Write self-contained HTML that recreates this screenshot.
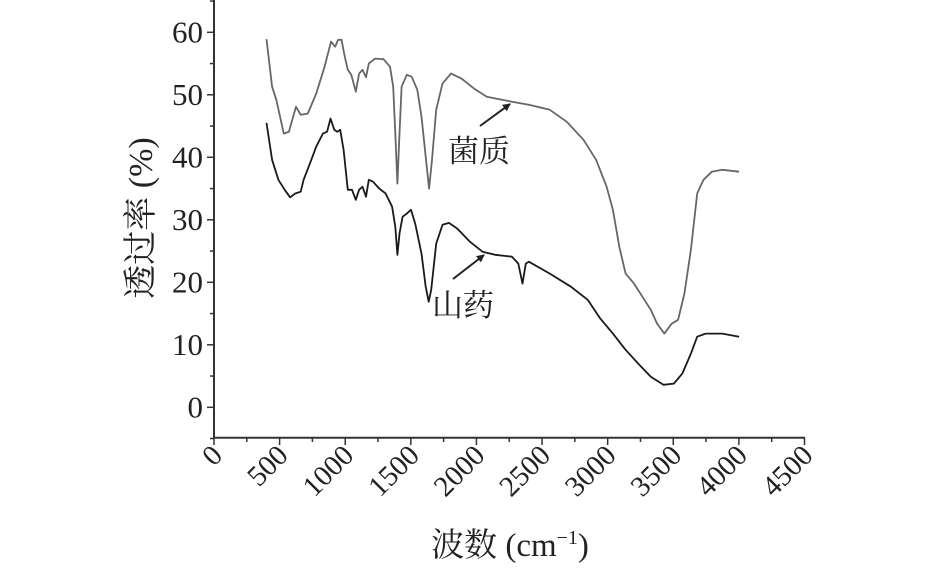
<!DOCTYPE html>
<html><head><meta charset="utf-8"><style>
body{margin:0;background:#fff}
svg text{font-family:"Liberation Serif","Noto Serif CJK SC","Noto Sans CJK SC",serif;fill:#222}
</style></head><body>
<svg id="chart" width="945" height="565" viewBox="0 0 945 565" xmlns="http://www.w3.org/2000/svg"></svg>
<script>
const xTicks=[0,500,1000,1500,2000,2500,3000,3500,4000,4500];
const yTicks=[0,10,20,30,40,50,60];
const junzhiX=[400,443,475,532,571,625,661,715,779,843,892,924,946,972,997,1020,1046,1081,1106,1132,1158,1180,1228,1292,1341,1366,1382,1398,1414,1430,1469,1507,1549,1581,1613,1639,1661,1693,1741,1806,1886,1982,2078,2174,2271,2399,2559,2688,2816,2912,2992,3040,3089,3137,3201,3265,3329,3377,3432,3489,3537,3585,3634,3682,3730,3794,3874,4002];
const junzhiY=[58.9,51.3,49.2,43.8,44.1,48.1,46.8,47.0,50.2,54.5,58.5,57.7,58.8,58.8,56.1,54,53.2,50.5,53.4,54,52.8,55,55.8,55.7,54.5,51.3,43.8,35.8,43.8,51.3,53.2,52.9,50.8,46.5,40.1,35,39.6,47.6,51.8,53.4,52.6,51,49.7,49.3,48.9,48.4,47.6,45.7,42.8,39.6,35.3,31.6,25.7,21.4,19.8,17.7,15.6,13.4,11.8,13.4,14,18.2,25.2,34.2,36.4,37.7,38,37.7];
const shanyaoX=[400,443,491,539,580,619,661,683,731,779,830,862,888,917,940,962,988,1020,1052,1081,1106,1132,1158,1180,1212,1260,1308,1357,1382,1398,1414,1437,1469,1501,1533,1581,1613,1636,1655,1693,1741,1790,1854,1950,2046,2142,2271,2319,2351,2376,2399,2559,2720,2848,2944,3040,3137,3233,3329,3425,3505,3569,3634,3682,3746,3874,4002];
const shanyaoY=[45.5,39.6,36.4,34.8,33.6,34.2,34.5,36.4,39,41.7,43.8,44.1,46.2,44.4,44.1,44.4,41.2,34.8,34.8,33.2,34.8,35.3,33.7,36.4,36.1,35,34.2,32.1,28.9,24.4,27.8,30.5,31,31.6,29.4,24.6,19.3,16.9,18.8,26.2,29.2,29.5,28.6,26.5,24.9,24.4,24.1,23,19.8,23,23.3,21.4,19.3,17.2,14.2,11.8,9.2,7,4.9,3.6,3.8,5.4,8.6,11.3,11.8,11.8,11.3];
const X=v=>214+v*0.13122, Y=v=>407.3-v*6.25;
const svg=document.getElementById('chart'),NS='http://www.w3.org/2000/svg';
function mk(t,a,p){const e=document.createElementNS(NS,t);for(const k in a)e.setAttribute(k,a[k]);(p||svg).appendChild(e);return e;}
const ax=mk('path',{d:`M214,0 V437.7 H805`,stroke:'#333','stroke-width':2,fill:'none'});


for(let v=-5;v<=65;v+=5){const t=mk('line',{x1:214,x2:v%10==0?207:210,y1:Y(v),y2:Y(v),stroke:'#333','stroke-width':1.5});

}
yTicks.forEach(v=>{const t=mk('text',{x:203,y:Y(v)+10,'text-anchor':'end','font-size':31});t.textContent=v;

});
for(let v=0;v<=4500;v+=250){const t=mk('line',{x1:X(v),x2:X(v),y1:437.7,y2:v%500==0?445:442,stroke:'#333','stroke-width':1.5});

}
xTicks.forEach(v=>{const t=mk('text',{x:X(v)+10,y:457,'text-anchor':'end','font-size':29,transform:`rotate(-45 ${X(v)+10} 457)`});t.textContent=v;

});
function line(xs,ys,c,n){const p=mk('polyline',{points:xs.map((x,i)=>X(x).toFixed(1)+','+Y(ys[i]).toFixed(1)).join(' '),fill:'none',stroke:c,'stroke-width':1.8,'stroke-linejoin':'round'});

}
line(junzhiX,junzhiY,'#666','junzhi-series');
line(shanyaoX,shanyaoY,'#1a1a1a','shanyao-series');
mk('defs',{}).innerHTML='<marker id="ah" markerWidth="8" markerHeight="8" refX="7" refY="4" orient="auto" markerUnits="userSpaceOnUse"><path d="M0,0 L8,4 L0,8 z" fill="#222"/></marker>';
const a1=mk('line',{x1:480,y1:126,x2:510,y2:104,stroke:'#222','stroke-width':2,'marker-end':'url(#ah)'});


const a2=mk('line',{x1:453,y1:279,x2:484,y2:255,stroke:'#222','stroke-width':2,'marker-end':'url(#ah)'});


const l1=mk('text',{x:448,y:162,'font-size':31});l1.textContent='菌质';


const l2=mk('text',{x:432,y:316,'font-size':31});l2.textContent='山药';


const yl=mk('text',{x:152,y:218,'text-anchor':'middle','font-size':34,transform:'rotate(-90 152 218)'});yl.textContent='透过率 (%)';


const xl=mk('text',{x:510,y:556,'text-anchor':'middle','font-size':33});xl.innerHTML='波数 (cm<tspan dy="-12" font-size="20">−1</tspan><tspan dy="12">)</tspan>';


</script>
</body></html>
